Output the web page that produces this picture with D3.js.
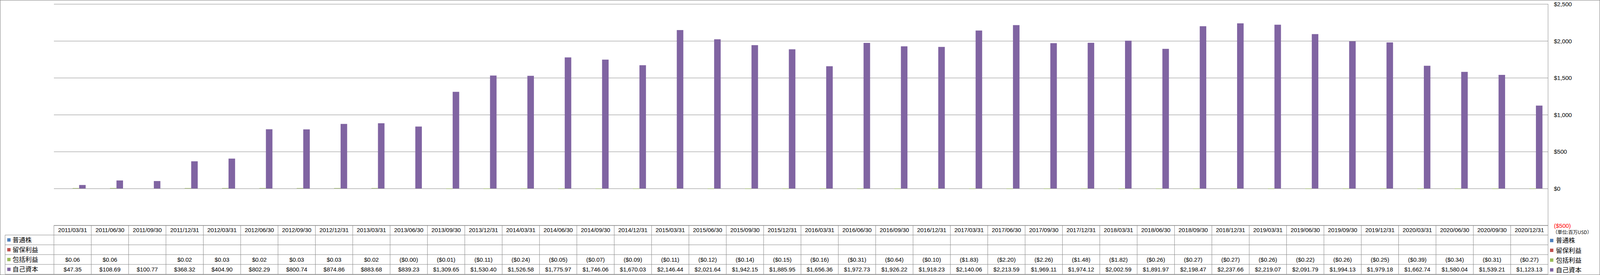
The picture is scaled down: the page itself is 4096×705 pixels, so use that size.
<!DOCTYPE html>
<html><head><meta charset="utf-8">
<script src="https://cdn.jsdelivr.net/npm/d3@7"></script>
<style>html,body{margin:0;padding:0;background:#fff;overflow:hidden}</style>
</head><body><svg id="c" width="4096" height="705"></svg>
<script>
const dates = ["2011/03/31","2011/06/30","2011/09/30","2011/12/31","2012/03/31","2012/06/30","2012/09/30","2012/12/31",
"2013/03/31","2013/06/30","2013/09/30","2013/12/31","2014/03/31","2014/06/30","2014/09/30","2014/12/31",
"2015/03/31","2015/06/30","2015/09/30","2015/12/31","2016/03/31","2016/06/30","2016/09/30","2016/12/31",
"2017/03/31","2017/06/30","2017/09/30","2017/12/31","2018/03/31","2018/06/30","2018/09/30","2018/12/31",
"2019/03/31","2019/06/30","2019/09/30","2019/12/31","2020/03/31","2020/06/30","2020/09/30","2020/12/31"];
const seriesNames = ["普通株","留保利益","包括利益","自己資本"];
const seriesColors = ["#4F81BD","#C0504D","#9BBB59","#8064A2"];
const commonStock = [];
const retainedEarnings = [];
const comprehensiveIncome = [0.06,0.06,null,0.02,0.03,0.02,0.03,0.03,0.02,-0.001,-0.01,-0.11,-0.24,-0.05,-0.07,-0.09,
-0.11,-0.12,-0.14,-0.15,-0.16,-0.31,-0.64,-0.10,-1.83,-2.20,-2.26,-1.48,-1.82,-0.26,-0.27,-0.27,
-0.26,-0.22,-0.26,-0.25,-0.39,-0.34,-0.31,-0.27];
const equity = [47.35,108.69,100.77,368.32,404.90,802.29,800.74,874.86,883.68,839.23,1309.65,1530.40,1526.58,1775.97,1746.06,1670.03,
2146.44,2021.64,1942.15,1885.95,1656.36,1972.73,1926.22,1918.23,2140.06,2213.59,1969.11,1974.12,2002.59,1891.97,2198.47,2237.66,
2219.07,2091.79,1994.13,1979.18,1662.74,1580.04,1539.21,1123.13];
const yTicks = [-500,0,500,1000,1500,2000,2500];
const unitLabel = "（単位:百万USD）";

const seriesValues = [commonStock, retainedEarnings, comprehensiveIncome, equity];

const W = 4096, H = 705;
const plotL = 138, plotR = 3963, plotT = 10.2, tableTop = 577.8;
const headerBottom = 602.5, tableBottom = 703, leftColX = 13;
const rowH = (tableBottom - headerBottom) / 4;
const gridColor = "#868686";
const numFont = "'Liberation Sans', Arial, sans-serif";
const cjkFont = "'Noto Sans CJK JP', 'Noto Sans CJK SC', sans-serif";

const svg = d3.select("#c");
svg.append("rect").attr("x",0.5).attr("y",0.5).attr("width",W-1).attr("height",H-1)
  .attr("fill","#fff").attr("stroke",gridColor).attr("stroke-width",1.2);

const y = d3.scaleLinear().domain([-500,2500]).range([tableTop, plotT]);
const x = d3.scaleBand().domain(dates).range([plotL, plotR]).paddingInner(0).paddingOuter(0);
const xs = d3.scaleBand().domain(seriesNames).range([0, x.bandwidth()]).paddingInner(0).paddingOuter(0.854);

const fmt = d3.format(",.2f");
const money = v => (v == null ? "" : (v < 0 ? "($" + fmt(-v) + ")" : "$" + fmt(v)));

// gridlines
const grid = svg.append("g").attr("transform", `translate(${plotL},0)`)
  .call(d3.axisLeft(y).tickValues(yTicks).tickSize(-(plotR-plotL)).tickFormat(""));
grid.select(".domain").remove();
grid.selectAll("line").attr("stroke", gridColor).attr("stroke-width", 1);

// bars
seriesNames.forEach((name, si) => {
  const vals = seriesValues[si];
  const data = dates.map((d, i) => ({d, v: vals[i] == null ? null : vals[i]}))
    .filter(o => o.v != null && Math.abs(o.v) >= 0.005);
  svg.append("g").selectAll("rect").data(data).join("rect")
    .attr("x", o => x(o.d) + xs(name))
    .attr("width", xs.bandwidth())
    .attr("y", o => {
      const h = Math.max(Math.abs(y(o.v) - y(0)), 1);
      return o.v >= 0 ? y(0) - h : y(0);
    })
    .attr("height", o => Math.max(Math.abs(y(o.v) - y(0)), 1))
    .attr("fill", seriesColors[si]);
});

// right axis labels
const ax = svg.append("g").attr("transform", `translate(${3978},0)`)
  .call(d3.axisRight(y).tickValues(yTicks).tickSize(0).tickPadding(0)
    .tickFormat(v => v < 0 ? "($" + d3.format(",")(-v) + ")" : "$" + d3.format(",")(v)));
ax.select(".domain").remove();
ax.selectAll("text").attr("font-family", numFont).attr("font-size", 15)
  .attr("fill", v => v < 0 ? "#FF0000" : "#000").attr("text-anchor","start").attr("dy","0.35em");

svg.append("text").attr("x", 3975).attr("y", 596).attr("dy","0.35em")
  .attr("font-family", cjkFont).attr("font-size", 12).attr("fill","#000")
  .attr("textLength", 100).attr("lengthAdjust","spacingAndGlyphs").text(unitLabel);

// table lines
const tl = svg.append("g").attr("stroke", gridColor).attr("stroke-width", 1).attr("fill","none");
tl.append("line").attr("x1", plotL).attr("x2", plotR).attr("y1", tableTop).attr("y2", tableTop);
for (let r = 0; r <= 4; r++) {
  const yy = headerBottom + r * rowH;
  tl.append("line").attr("x1", leftColX).attr("x2", plotR).attr("y1", yy).attr("y2", yy);
}
tl.append("line").attr("x1", leftColX).attr("x2", leftColX).attr("y1", headerBottom).attr("y2", tableBottom);
tl.selectAll("line.col").data(dates).join("line").attr("class","col")
  .attr("x1", d => x(d)).attr("x2", d => x(d)).attr("y1", tableTop).attr("y2", tableBottom);
tl.append("line").attr("x1", plotR).attr("x2", plotR).attr("y1", plotT).attr("y2", tableBottom);

// header dates
svg.append("g").selectAll("text").data(dates).join("text")
  .attr("x", d => x(d) + x.bandwidth()/2).attr("y", (tableTop + headerBottom)/2).attr("dy","0.35em")
  .attr("text-anchor","middle").attr("font-family", numFont).attr("font-size", 15).attr("fill","#000")
  .text(d => d);

// rows
seriesNames.forEach((name, si) => {
  const cy = headerBottom + (si + 0.5) * rowH;
  const g = svg.append("g");
  g.append("rect").attr("x", 18.5).attr("y", cy - 4.3).attr("width", 8.6).attr("height", 8.6).attr("fill", seriesColors[si]);
  g.append("text").attr("x", 32).attr("y", cy).attr("dy","0.36em").attr("font-family", cjkFont)
    .attr("font-size", 16.4).attr("fill","#000").text(name);
  const vals = seriesValues[si];
  g.selectAll("text.v").data(dates.map((d,i)=>({d, v: vals[i] == null ? null : vals[i]}))).join("text")
    .attr("class","v")
    .attr("x", o => x(o.d) + x.bandwidth()/2).attr("y", cy).attr("dy","0.35em")
    .attr("text-anchor","middle").attr("font-family", numFont).attr("font-size", 15).attr("fill","#000")
    .text(o => money(o.v));
  // right legend
  g.append("rect").attr("x", 3968).attr("y", cy - 4.3 + 1.5).attr("width", 8.6).attr("height", 8.6).attr("fill", seriesColors[si]);
  g.append("text").attr("x", 3983).attr("y", cy + 1.5).attr("dy","0.36em").attr("font-family", cjkFont)
    .attr("font-size", 16.4).attr("fill","#000").text(name);
});
</script></body></html>
